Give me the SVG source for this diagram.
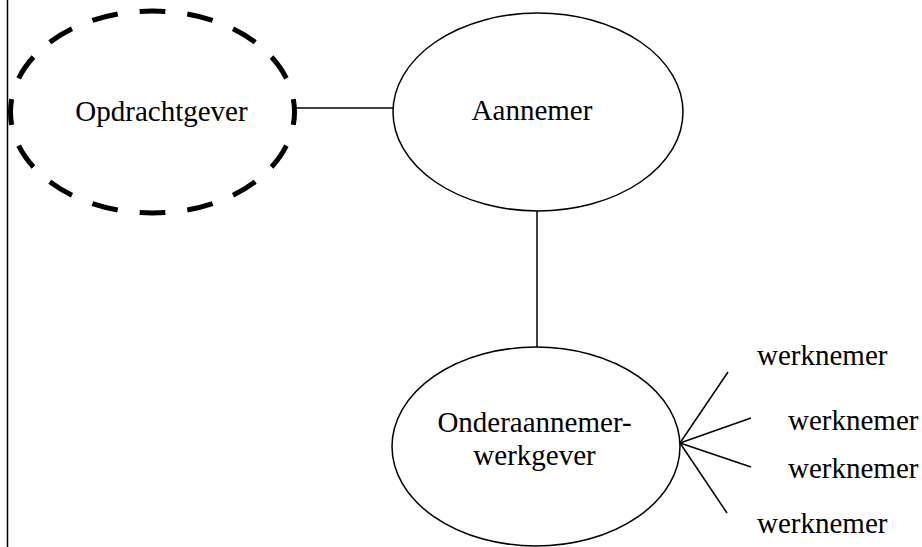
<svg xmlns="http://www.w3.org/2000/svg" width="922" height="547" viewBox="0 0 922 547">
<style>
.sh{fill:#fff;stroke:#000;stroke-width:1.5}
.dash{fill:#fff;stroke:#000;stroke-width:5;stroke-dasharray:26 22;stroke-dashoffset:13}
.ln{stroke:#000;stroke-width:1.5;fill:none}
text{font-family:"Liberation Serif","Times New Roman",serif;font-size:29px;fill:#000}
.c{text-anchor:middle}
</style>
<rect width="922" height="547" fill="#fff"/>
<line class="ln" x1="7.5" y1="0" x2="7.5" y2="547"/>
<g id="connectors">
<line class="ln" x1="295" y1="108" x2="393" y2="108"/>
<line class="ln" x1="537" y1="211" x2="537" y2="347"/>
<line class="ln" x1="680" y1="443" x2="728" y2="372"/>
<line class="ln" x1="680" y1="443" x2="751" y2="418"/>
<line class="ln" x1="680" y1="443" x2="751" y2="467"/>
<line class="ln" x1="680" y1="443" x2="727" y2="513"/>
</g>
<g id="opdrachtgever">
<ellipse class="dash" cx="152.5" cy="112" rx="142" ry="101" pathLength="768"/>
<text class="c" x="161.5" y="121">Opdrachtgever</text>
</g>
<g id="aannemer">
<ellipse class="sh" cx="538" cy="112" rx="145" ry="99"/>
<text class="c" x="532" y="120">Aannemer</text>
</g>
<g id="onderaannemer">
<ellipse class="sh" cx="536" cy="446.5" rx="144" ry="99.5"/>
<text class="c" x="534.5" y="432">Onderaannemer-</text>
<text class="c" x="534.5" y="465">werkgever</text>
</g>
<g id="werknemer1"><text x="757" y="365">werknemer</text></g>
<g id="werknemer2"><text x="788" y="430">werknemer</text></g>
<g id="werknemer3"><text x="788" y="478">werknemer</text></g>
<g id="werknemer4"><text x="757" y="533">werknemer</text></g>
</svg>
